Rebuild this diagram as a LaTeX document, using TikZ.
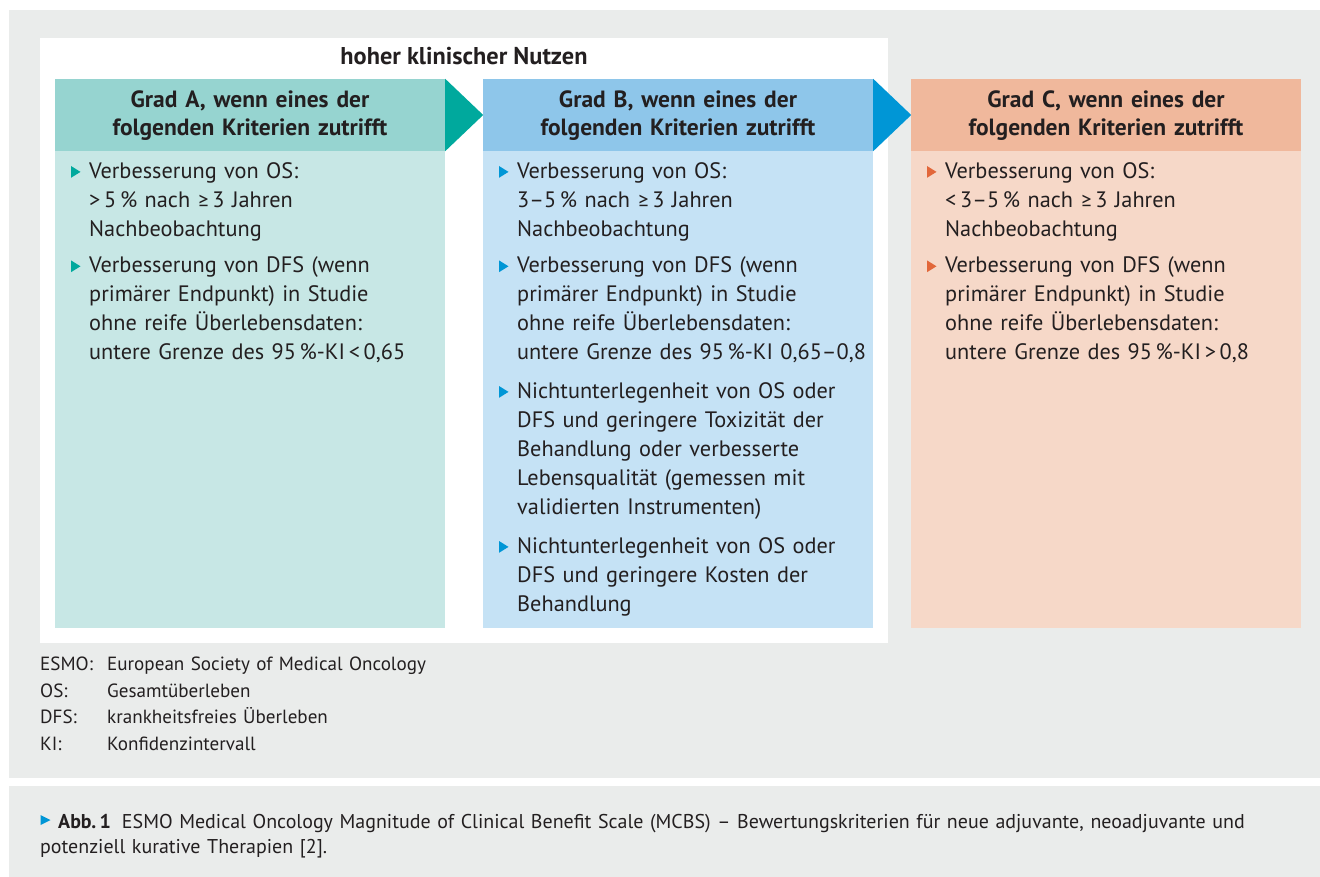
\documentclass[tikz,border=0pt]{standalone}
\usepackage{fontspec}
\setmainfont{PT Sans}
\newfontfamily\symfont{Carlito}
\newcommand\gesym{{\symfont ≥}}
\usetikzlibrary{calc}
\definecolor{txt}{HTML}{231F20}
\definecolor{panel}{HTML}{EAECEB}
\definecolor{hA}{HTML}{96D4D0}
\definecolor{bA}{HTML}{C7E7E5}
\definecolor{arA}{HTML}{00A99D}
\definecolor{hB}{HTML}{8EC6EA}
\definecolor{bB}{HTML}{C5E2F5}
\definecolor{arB}{HTML}{0096D6}
\definecolor{hC}{HTML}{F0B89C}
\definecolor{bC}{HTML}{F6D8C8}
\definecolor{arC}{HTML}{E2673A}
\newcommand\myBody{\fontsize{22.3}{29}\selectfont}
\newcommand\myHead{\fontsize{23.5}{28.3}\selectfont\bfseries}
\newcommand\mySmall{\fontsize{19.1}{26.5}\selectfont}
\newcommand\myCap{\fontsize{19.95}{25.5}\selectfont}
\newcommand\bul[2]{\fill[#1] ($(#2.base west)+(-18,-12.3)$) -- ($(#2.base west)+(-18,-0.5)$) -- ($(#2.base west)+(-8.5,-6.4)$) -- cycle;}
\begin{document}
\begin{tikzpicture}[x=1pt,y=-1pt,
  every node/.style={text=txt},
  hdrbox/.style={minimum width=390pt, minimum height=72pt, inner sep=0pt},
  hdrtext/.style={anchor=base, inner sep=0pt, text width=390pt, align=center, font=\myHead},
  bodybox/.style={minimum width=390pt, minimum height=477pt, inner sep=0pt},
  itemtext/.style={anchor=base west, inner sep=0pt, text width=370pt, align=left, font=\myBody},
  smalltext/.style={anchor=base west, inner sep=0pt, text width=400pt, align=left, font=\mySmall}]
\useasboundingbox (0,0) rectangle (1320,877);
\fill[white] (0,0) rectangle (1320,877);
\fill[panel] (9,10) rectangle (1320,778);
\fill[panel] (9,786) rectangle (1320,877);
\fill[white] (40,38) rectangle (888,643);
\node[anchor=base, inner sep=0pt, font=\fontsize{24.3}{25}\selectfont\bfseries] (title) at (464,64.3) {hoher klinischer Nutzen};
% boxes
\node[bodybox, fill=bA] (bodyA) at (250,389.5) {};
\node[bodybox, fill=bB] (bodyB) at (678,389.5) {};
\node[bodybox, fill=bC] (bodyC) at (1106,389.5) {};
\node[hdrbox, fill=hA] (hdA) at (250,115) {};
\node[hdrbox, fill=hB] (hdB) at (678,115) {};
\node[hdrbox, fill=hC] (hdC) at (1106,115) {};
\node[hdrtext] (tA) at (250,107.7) {Grad A, wenn eines der\\folgenden Kriterien zutrifft};
\node[hdrtext] (tB) at (678,107.7) {Grad B, wenn eines der\\folgenden Kriterien zutrifft};
\node[hdrtext] (tC) at (1106,107.7) {Grad C, wenn eines der\\folgenden Kriterien zutrifft};
\fill[arA] (hdA.north east) -- ($(hdA.east)+(38,0)$) -- (hdA.south east) -- cycle;
\fill[arB] (hdB.north east) -- ($(hdB.east)+(38,0)$) -- (hdB.south east) -- cycle;
% Column A
\node[itemtext] (a1) at (89,178.3) {Verbesserung von OS:\\{>}\,5\,\% nach \gesym\,3 Jahren\\Nachbeobachtung};
\node[itemtext] (a2) at (89,272.7) {Verbesserung von DFS (wenn\\primärer Endpunkt) in Studie\\ohne reife Überlebensdaten:\\untere Grenze des 95\,\%-KI\,{<}\,0,65};
\bul{arA}{a1}
\bul{arA}{a2}
% Column B
\node[itemtext] (b1) at (517,178.3) {Verbesserung von OS:\\3–5\,\% nach \gesym\,3 Jahren\\Nachbeobachtung};
\node[itemtext] (b2) at (517,272.7) {Verbesserung von DFS (wenn\\primärer Endpunkt) in Studie\\ohne reife Überlebensdaten:\\untere Grenze des 95\,\%-KI 0,65–0,8};
\node[itemtext] (b3) at (517,398.3) {Nichtunterlegenheit von OS oder\\DFS und geringere Toxizität der\\Behandlung oder verbesserte\\Lebensqualität (gemessen mit\\validierten Instrumenten)};
\node[itemtext] (b4) at (517,553.3) {Nichtunterlegenheit von OS oder\\DFS und geringere Kosten der\\Behandlung};
\bul{arB}{b1}
\bul{arB}{b2}
\bul{arB}{b3}
\bul{arB}{b4}
% Column C
\node[itemtext] (c1) at (945,178.3) {Verbesserung von OS:\\{<}\,3–5\,\% nach \gesym\,3 Jahren\\Nachbeobachtung};
\node[itemtext] (c2) at (945,272.7) {Verbesserung von DFS (wenn\\primärer Endpunkt) in Studie\\ohne reife Überlebensdaten:\\untere Grenze des 95\,\%-KI\,{>}\,0,8};
\bul{arC}{c1}
\bul{arC}{c2}
% abbreviations
\node[smalltext, text width=60pt] (abbr) at (40,670.7) {ESMO:\\OS:\\DFS:\\KI:};
\node[smalltext] (defs) at (107,670.7) {European Society of Medical Oncology\\Gesamtüberleben\\krankheitsfreies Überleben\\Konfidenzintervall};
% caption
\node[anchor=base west, inner sep=0pt, text width=1270pt, align=left, font=\myCap] (cap) at (40,828.3) {\hspace*{18pt}\textbf{Abb.\,1}\hspace{0.55em}ESMO Medical Oncology Magnitude of Clinical Benefit Scale (MCBS) – Bewertungskriterien für neue adjuvante, neoadjuvante und\\potenziell kurative Therapien [2].};
\fill[arB] ($(cap.base west)+(0.5,-13.3)$) -- ($(cap.base west)+(0.5,-3.3)$) -- ($(cap.base west)+(10.5,-8.3)$) -- cycle;
\end{tikzpicture}
\end{document}
